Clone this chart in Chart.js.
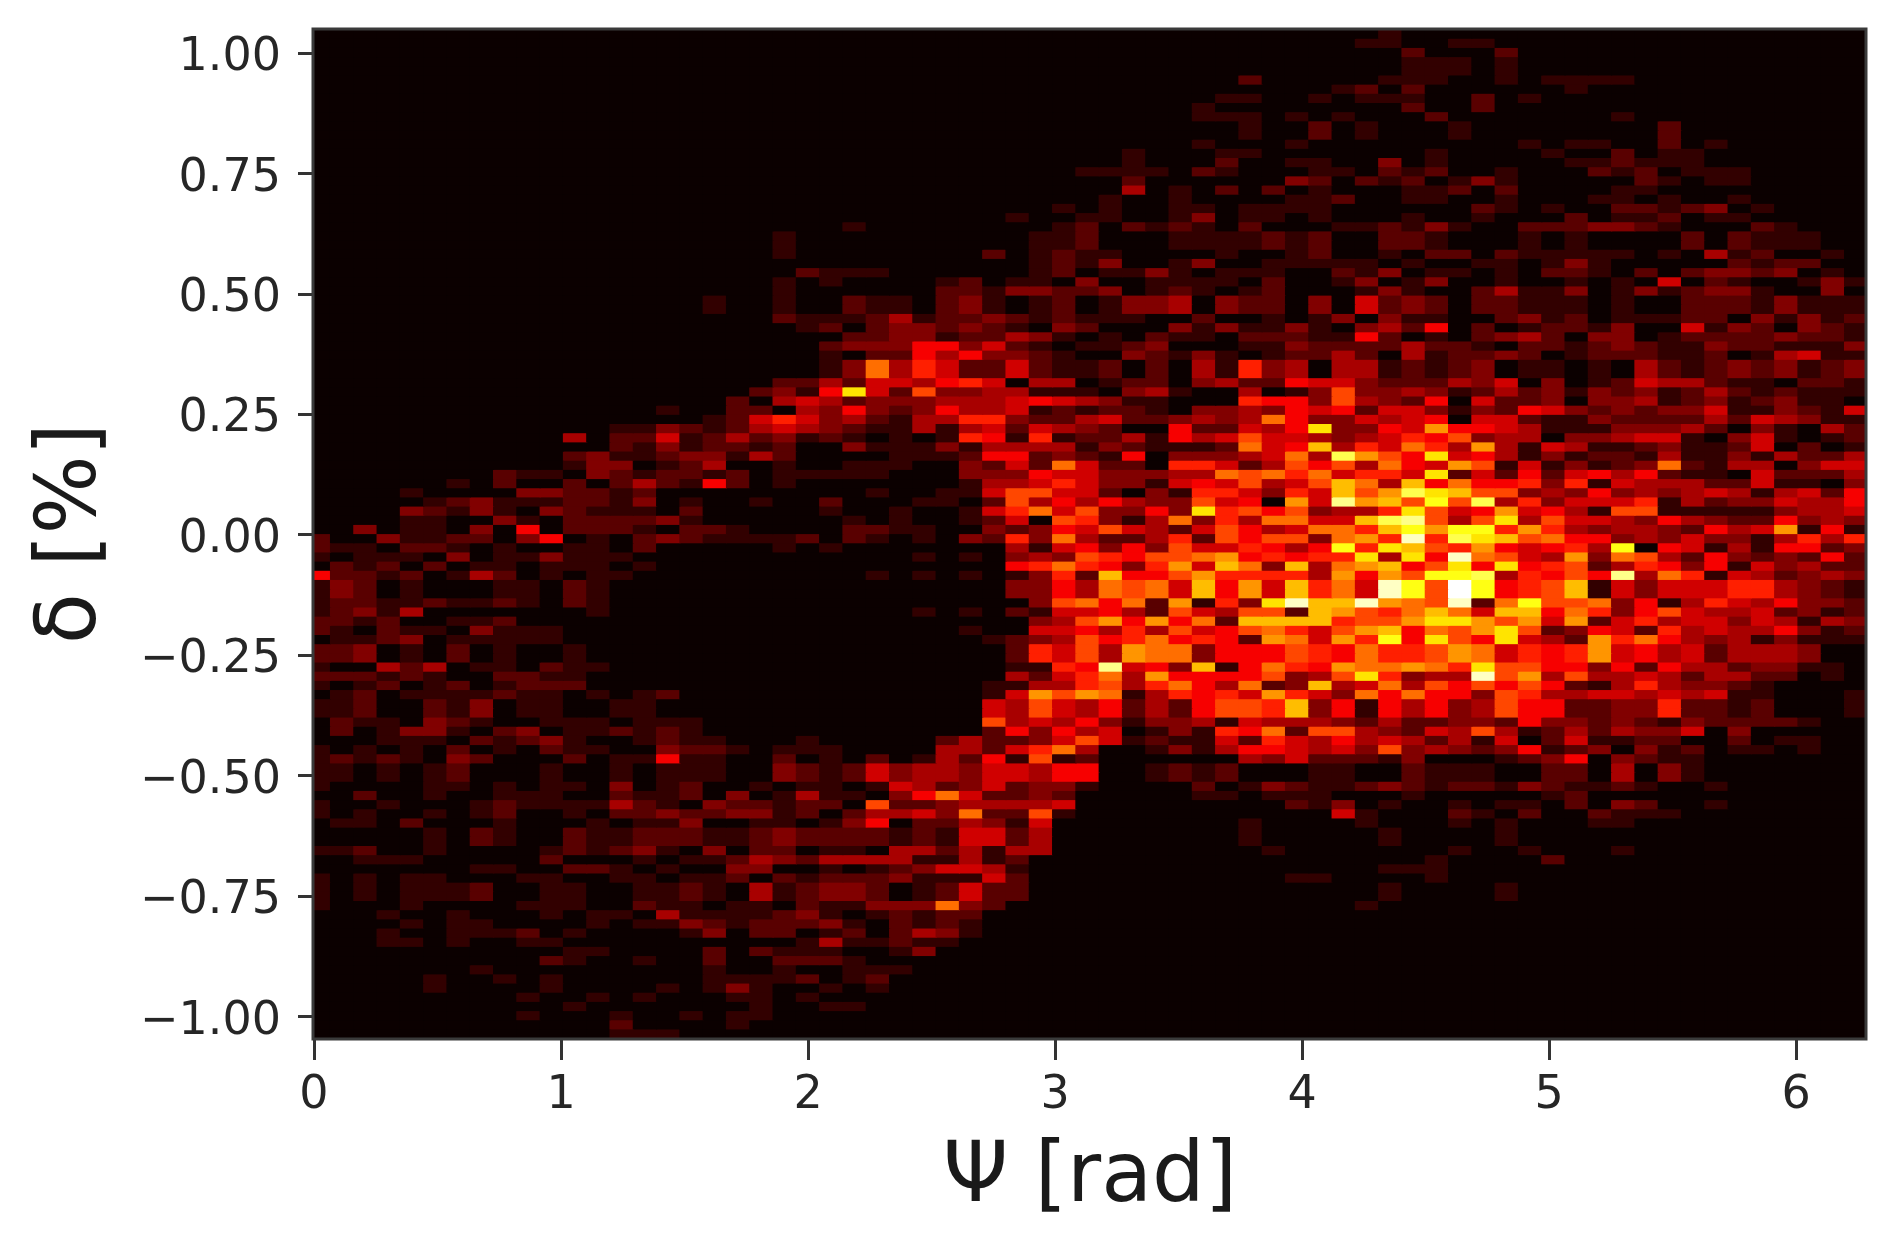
<!DOCTYPE html>
<html>
<head>
<meta charset="utf-8">
<style>
  html, body { margin: 0; background: #fff; }
  canvas { display: block; }
</style>
<script src="https://cdn.jsdelivr.net/npm/chart.js@4"></script>
</head>
<body>
<canvas id="histChart" width="1901" height="1242"></canvas>
<script>
const xTicks = [0, 1, 2, 3, 4, 5, 6];
const yTicks = [1, 0.75, 0.5, 0.25, 0, -0.25, -0.5, -0.75, -1];
const xLabel = "Ψ [rad]";
const yLabel = "δ [%]";

// counts per bin, top row first, one character per cell (base 18)
// left half: columns 0-33
const leftCounts = [
"","","","","","","","","","","","","","","",
"0000000000 0000000000 0000000000 0001",
"","","",
"0000000000 0000000000 0000000000 0010",
"0000000000 0000000000 0000000000 1001",
"0000000000 0000000000 0001000000 0012",
"0000000000 0000000000 1000000000 0112",
"0000000000 0000000000 1000000000 0112",
"0000000000 0000000000 1000000002 0121",
"0000000000 0000000000 0000000000 0121",
"0000000000 0000000000 0211100000 0120",
"0000000000 0000000000 1010000120 1103",
"0000000000 0000000000 1000000221 3322",
"0000000000 0000000100 1002110231 0120",
"0000000000 0000000100 1002110231 0120",
"0000000000 0000000000 2111241223 2121",
"0000000000 0000000000 0120233232 1032",
"0000000000 0000000000 0002233122 4310",
"0000000000 0000000000 0023336635 2101",
"0000000000 0000000000 0010226463 3210",
"0000000000 0000000000 0013947522 5211",
"0000000000 0000000000 0013947522 5211",
"0000000000 0000000000 2242554675 0440",
"0000000000 0000000002 316c528334 4111",
"0000000000 0000000020 4542333444 5654",
"0000000000 0000010022 0436323644 5121",
"0000000000 0000000125 7534214477 3224",
"0000000000 0001132124 5432114145 2543",
"0000000000 0402251242 3121010176 1712",
"0000000000 0002131221 2003111314 4441",
"0000000000 0231123314 2000011126 6232",
"0000000000 0133012400 1001110032 5295",
"0000000021 1032122120 1111100033 3655",
"0000001020 0202421620 1000000014 4575",
"0000100003 3221200000 0000100115 8855",
"0000012311 1221301001 0020001102 8464",
"0000321310 3211102000 0010010015 7958",
"0000110031 0222231000 0001010012 5087",
"0030110306 0222102210 0002211003 2365",
"2003112203 6010232111 1202101032 7394",
"2110221010 0110200000 1010000000 4156",
"1011103011 3111000000 0000001010 3438",
"0212020110 1110100000 0000000000 6797",
"6221201420 1011000000 0000101010 1372",
"1320100011 0210000000 0000000000 3364",
"1320100011 0210000000 0000000000 3364",
"1221121121 0210000000 0000000000 0389",
"1231400000 0010000000 0000001010 2155",
"2212001120 0000000000 0000000000 0348",
"2102110311 1000000000 0000000010 0556",
"0112301111 1000000000 0000000001 2348",
"2230102010 0100000000 0000000000 2758",
"2230102010 0100000000 0000000000 2758",
"1004240110 2110000000 0000000000 1176",
"2221210022 1100000000 0000000000 4257",
"1012012012 2200000000 0000000001 1447",
"0120111121 1010120000 0000000001 5a8a",
"1120021301 1001100000 0000000005 4854",
"1120021301 1001100000 0000000005 4854",
"0211032100 1110111000 0000000008 4546",
"0201331023 0112121000 0000000002 6364",
"0001110212 3100121100 0100000242 2358",
"1010102010 2110032210 1110000442 5794",
"1212103200 0201161100 2010201426 1812",
"1101012000 1001011100 3212534435 5466",
"1101012000 1001011100 3212534435 5466",
"1000011010 1103012001 0110154235 2331",
"0020010011 1002112030 1411036952 2320",
"1001000121 1114210322 1220822344 4450",
"1010010120 0102232233 1202445392 2810",
"0110200010 0010113001 1013602243 1500",
"0000010210 0211222112 3222212155 2400",
"0000010210 0211222112 3222212155 2400",
"1120010000 1212310302 2011044241 4400",
"0011100000 2000101124 3244441141 2000",
"0000000110 0221010033 0010123554 1000",
"1010110001 1001101120 2122231115 2000",
"1010111200 1100112104 1233201252 2000",
"1010111200 1100112104 1233201252 2000",
"1000100001 1100211011 0211333932 0000",
"0001001000 1011041111 2310121220",
"0000101100 0010113212 2231021210",
"0001001112 0100001302 2012024310",
"0001101001 1000000000 0141121100",
"0000000000 0110000202 1110013000",
"0000000000 2100100200 2221000000",
"0000000100 0000000100 1001110000",
"0000010010 1000000111 1201200000",
"0000010000 1000010131 0010100000",
"0000000001 0010100011 0100000000",
"0000000000 0100000001 0011000000",
"0000000001 0001001011",
"0000000000 0002000010",
"0000000000 0001110000"
];

// right half: columns 34-66
const rightCounts = [
"0000000000 0010000000",
"0000000000 0110011000",
"0000000000 0002000200",
"0000000000 0001110100",
"0000000000 0001110100",
"0000002000 0011100101 1110000000",
"0000000000 1202000000 1000000000",
"0000011001 0111002010",
"0000100000 0002002000",
"0000111010 1000200000 0010000000",
"0000001002 0100010000 0000200000",
"0000001002 0100010000 0000200000",
"0000100010 0000000010 1100201000",
"0100011000 0000100001 0020110000",
"0100020011 0030100000 1121110000",
"1110210001 1021200100 0212011100",
"0200000032 0212013100 0002101100",
"0401020201 0001120200 0011000000",
"1001000011 2001100100 0110100100",
"1001101111 0000002101 0022123010",
"1001301101 0001001000 2011201100",
"0212102000 1121310022 2332100021",
"0001111212 0022100010 1000020211 100",
"0001111212 0022100010 1000020211 100",
"1000010012 0010220211 1110104120 010",
"3001300111 1101001101 3100000212 200",
"1131011100 2130110102 2102023323 010",
"0011110200 1301300100 1010502100 131",
"3012101200 0131002411 3013123310 030",
"1334032203 0523202211 1010022213 111",
"1334032203 0523202211 1010022213 111",
"1100200101 3031100231 2011122031 312",
"0003131131 0342602012 2130051320 321",
"1021102221 1620102342 0330122223 221",
"1230001132 2224221022 1232113221 113",
"0321310122 4204122320 1222112014 511",
"2020417340 4412123011 0104212323 123",
"2020417340 4412123011 0104212323 123",
"1220342265 5322243503 0125442110 221",
"0341004013 8334312423 1323124212 111",
"3110007663 8432605223 0334123123 110",
"2210334365 6255313265 3232335113 215",
"5223434963 3545605521 1322224254 311",
"200622546c 3365a66541 1133342031 042",
"2416458554 3457683440 3345510351 012",
"321112956b 475974a415 4112311250 201",
"1603334594 ea86c56413 1221411314 224",
"2207752486 84965a8151 3123921440 355",
"3334498979 5775c25262 5646211052 224",
"3315658458 b94b696673 7154442251 103",
"2031775375 b8aecb8834 3634345414 526",
"64338560a5 fab8d8e473 5557142335 446",
"3363c78683 447c856a56 4188111113 445",
"3149374995 5bef848c48 5543643226 343",
"8542586459 97bdadd7a7 434432645a 161",
"2247286883 9a7g7ecb89 6634353314 747",
"3638557646 d7cb87a656 74d0651416 623",
"76889a6767 7c4c6g9854 a398426323 262",
"637a5b93b4 9ab68c6c67 8247636153 422",
"b668a77774 a6a8dde476 86f4971542 343",
"9895b6a5b7 95gd8hd678 b153555774 321",
"9895b6a5b7 95gd8hd678 b153555774 321",
"692a173cgb bga98g29d8 8936147546 332",
"642854882b a879b95bb6 9736854452 312",
"a6a692bbbb 788acca8a5 a257455354 143",
"4748568975 8ab698ac82 3652745446 312",
"6796762a95 a7d6c86c54 2a79643413 111",
"4a99366687 69778a9576 7a56452444 3",
"4a99366687 69778a9576 7a56452444 3",
"f563b16976 a99a97c886 6362644233 11",
"94a6666834 8c7344g8a4 8445424422 01",
"847964923b 4594868686 2147433210",
"9147675a75 3969663874 4554545110 001",
"62426887b3 6164634866 2233722120 001",
"62426887b3 6164634866 2233722120 001",
"3133415444 3242233263 3232132222 1",
"5013176928 8432548412 4243350300",
"5121152754 6454241502 5112200201 1",
"0013146654 5383432361 2303120110 1",
"0000004352 2213000123 6032110000",
"0012120001 1002111002 2040310000",
"0012120001 1002111002 2040310000",
"0000201321 1232122132 1121001000",
"0000110111 0001000001 2",
"0000000021 3010010110 2032001000",
"0000000000 5100021020 0211100000",
"0000001000 0100010100 0110000000",
"0000001000 0010000100",
"0000001000 0010000100",
"0000000100 0000010010 0010000000",
"0000000000 0000100002",
"0000000000 0011100000",
"0000000011 0000100000",
"0000000000 0010000100",
"0000000000 0010000100",
"0000000000 0100000000",
"","","","","","","","","","","","","",""
];

const rowCount = 110;
const binWidth = 0.0943;
const firstEdge = 0.067;
const xMax = 2 * Math.PI;
const yMax = 1.05;
const yMin = -1.044;
const maxCount = 17;

// matplotlib "hot"
const hotColor = (count) => {
  const t = count / maxCount;
  const r = Math.min(1, 0.0416 + (t / 0.365) * 0.9584);
  const g = Math.min(1, Math.max(0, (t - 0.365) / 0.381));
  const b = Math.min(1, Math.max(0, (t - 0.746) / 0.254));
  return `rgb(${Math.round(r * 255)},${Math.round(g * 255)},${Math.round(b * 255)})`;
};

const rowHeight = (yMax - yMin) / rowCount;
const datasets = [];

for (let r = 0; r < rowCount; r++) {
  const left = (leftCounts[r] || "").replace(/ /g, "").padEnd(34, "0");
  const right = (rightCounts[r] || "").replace(/ /g, "").padEnd(33, "0");
  const cells = (left + right).split("").map((ch) => parseInt(ch, 18));
  const top = yMax - r * rowHeight;
  datasets.push({
    data: cells.map((_, c) => ({
      x: firstEdge + (c - 0.5) * binWidth,
      y: [top - rowHeight, top],
    })),
    backgroundColor: cells.map(hotColor),
    borderWidth: 0,
    inflateAmount: 0.6,
    grouped: false,
    barPercentage: 1,
    categoryPercentage: 1,
  });
}

const framePlugin = {
  id: "frame",
  afterDraw(chart) {
    const { ctx, chartArea } = chart;
    ctx.save();
    ctx.strokeStyle = "#3a3a3a";
    ctx.lineWidth = 3;
    ctx.strokeRect(chartArea.left - 1, chartArea.top, chartArea.width + 1, chartArea.height + 1);
    ctx.restore();
  },
};

const tickFont = { family: "DejaVu Sans", size: 46 };
const titleFont = { family: "DejaVu Sans", size: 83 };

new Chart(document.getElementById("histChart").getContext("2d"), {
  type: "bar",
  data: { datasets },
  plugins: [framePlugin],
  options: {
    responsive: false,
    animation: false,
    layout: { padding: { top: 29, right: 35 } },
    plugins: { legend: { display: false }, tooltip: { enabled: false } },
    scales: {
      x: {
        type: "linear",
        min: 0,
        max: xMax,
        offset: false,
        afterBuildTicks: (scale) => {
          scale.ticks = xTicks.map((value) => ({ value }));
        },
        afterFit: (scale) => {
          scale.height = 204;
          scale.paddingLeft = 0;
          scale.paddingRight = 0;
        },
        grid: { offset: false, drawOnChartArea: false, tickLength: 22, tickWidth: 3, tickColor: "#333" },
        border: { display: false },
        ticks: { color: "#262626", font: tickFont, padding: 8, maxRotation: 0, autoSkip: false },
        title: {
          display: true,
          text: xLabel,
          color: "#1a1a1a",
          font: titleFont,
          padding: { top: 0, bottom: 13 },
        },
      },
      y: {
        type: "linear",
        min: yMin,
        max: yMax,
        afterBuildTicks: (scale) => {
          scale.ticks = yTicks.map((value) => ({ value }));
        },
        afterFit: (scale) => {
          scale.width = 314;
          scale.paddingTop = 0;
          scale.paddingBottom = 0;
        },
        grid: { drawOnChartArea: false, tickLength: 16, tickWidth: 3, tickColor: "#333" },
        border: { display: false },
        ticks: {
          color: "#262626",
          font: tickFont,
          padding: 17,
          labelOffset: 5,
          autoSkip: false,
          callback: (value) => value.toFixed(2).replace("-", "−"),
        },
        title: {
          display: true,
          text: yLabel,
          color: "#1a1a1a",
          font: titleFont,
          padding: { top: 24, bottom: 0 },
        },
      },
    },
  },
});
</script>
</body>
</html>
